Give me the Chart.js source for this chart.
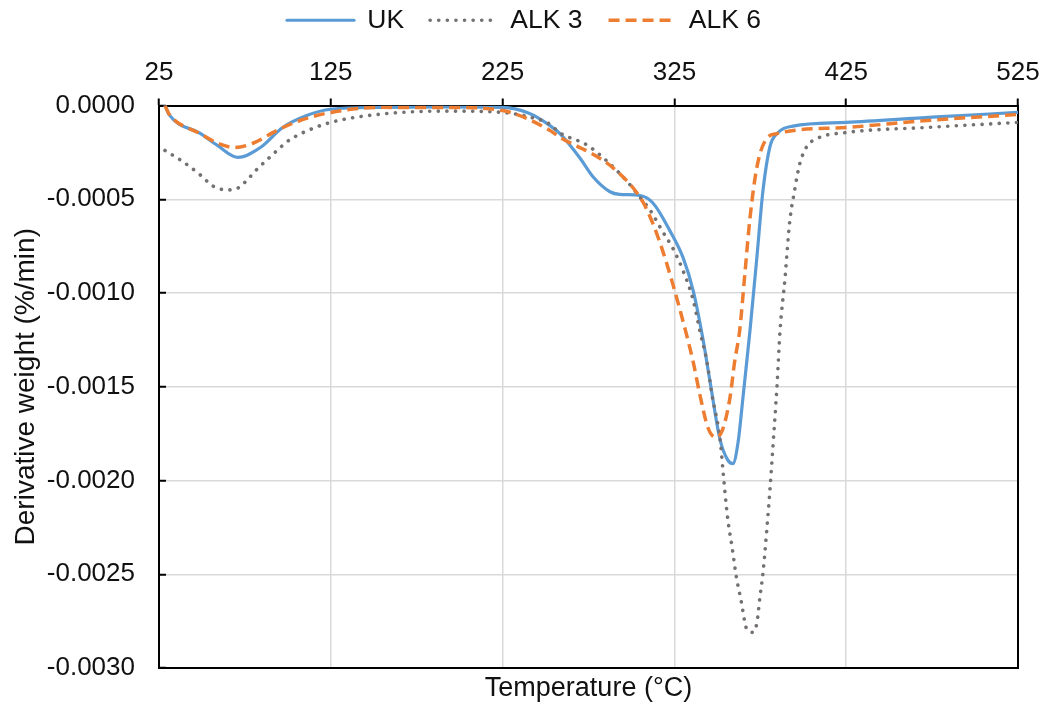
<!DOCTYPE html>
<html>
<head>
<meta charset="utf-8">
<script src="https://cdn.jsdelivr.net/npm/chart.js@4.4.1/dist/chart.umd.min.js"></script>
<style>
html,body{margin:0;padding:0;background:#ffffff;}
#wrap{width:1048px;height:706px;position:relative;}
</style>
</head>
<body>
<div id="wrap"><canvas id="c" width="1048" height="706"></canvas></div>
<script>
// ---- data ----
const seriesNames = ['UK', 'ALK 3', 'ALK 6'];
const xTicks = [25, 125, 225, 325, 425, 525];
const yTicks = [0, -0.0005, -0.0010, -0.0015, -0.0020, -0.0025, -0.0030];
const xTitle = 'Temperature (°C)';
const yTitle = 'Derivative weight (%/min)';

const ukT = [28.5, 31, 49, 59, 71, 84, 97, 111, 125, 155, 190, 225, 240, 252.6, 258.4, 270, 277.6, 287.5, 293, 305, 312.5, 322.5, 330, 336, 341.7, 345.7, 351.5, 356, 359, 362, 365, 369, 373, 376.6, 380.6, 384.7, 394, 425, 475, 525];
const ukY = [0, -0.00005, -0.000149, -0.000213, -0.000277, -0.000224, -0.000117, -0.000053, -0.00002, -0.00001, -0.000008, -0.00001, -0.00004, -0.000107, -0.00015, -0.00028, -0.00038, -0.00046, -0.000474, -0.00048, -0.00052, -0.00067, -0.00081, -0.00099, -0.00125, -0.00147, -0.00178, -0.00189, -0.00191, -0.0018, -0.00155, -0.0012, -0.00081, -0.00045, -0.00022, -0.00015, -0.00011, -0.00009, -0.000062, -0.000037];

const alk3T = [28.5, 39, 49, 56.5, 64.5, 71, 76, 82, 87.8, 93.7, 100, 109, 125, 155, 194, 225, 240, 252.6, 258, 274, 285, 297, 305, 311, 318, 324, 330, 336, 340, 344, 347, 351.6, 353.4, 356, 358.5, 361, 364, 367, 370.6, 373, 374.8, 376.6, 378.8, 380.6, 382.5, 384.7, 386.5, 389.4, 392, 395, 398, 402, 408, 425, 472, 525];
const alk3Y = [-0.00024, -0.0003, -0.00037, -0.00043, -0.00045, -0.00044, -0.0004, -0.00034, -0.00029, -0.00024, -0.00019, -0.000144, -0.00009, -0.000045, -0.00003, -0.000037, -0.00006, -0.0001, -0.000144, -0.00021, -0.00029, -0.0004, -0.00049, -0.00056, -0.00067, -0.00076, -0.00088, -0.00104, -0.00121, -0.00137, -0.00155, -0.00178, -0.00196, -0.0022, -0.00235, -0.00251, -0.00265, -0.00279, -0.00281, -0.00276, -0.00262, -0.00249, -0.00226, -0.00205, -0.0018, -0.0015, -0.0012, -0.00092, -0.00063, -0.00045, -0.00031, -0.00022, -0.000176, -0.000144, -0.000117, -0.00009];

const alk6T = [28.5, 30.5, 33, 49, 58.8, 69, 80, 93.7, 107, 125, 155, 194, 225, 252.6, 258.4, 277.6, 289, 301, 307, 312.5, 318, 324, 332, 336, 340, 344.6, 349, 353, 357.5, 360, 363, 366, 369, 373, 377.7, 384.7, 425, 472, 525];
const alk6Y = [0, -0.00004, -0.00007, -0.00015, -0.0002, -0.000224, -0.0002, -0.000133, -0.00008, -0.000037, -0.00001, -0.00001, -0.000027, -0.000133, -0.00017, -0.00026, -0.00033, -0.00044, -0.00052, -0.00063, -0.00077, -0.00095, -0.00122, -0.00137, -0.00155, -0.00172, -0.00177, -0.00173, -0.00155, -0.00137, -0.0012, -0.0009, -0.0006, -0.00033, -0.00019, -0.00015, -0.000117, -0.00008, -0.000048];

// ---- build chart ----
const toPts = (t, y) => t.map((v, i) => ({ x: v, y: y[i] }));
const FONT = '"Liberation Sans", Arial, sans-serif';
const TXT = '#111111';

Chart.defaults.font.family = FONT;
Chart.defaults.font.size = 26;
Chart.defaults.color = TXT;

const datasets = [
  { label: seriesNames[0], data: toPts(ukT, ukY), borderColor: '#5B9BD5', borderWidth: 3.2,
    borderDash: [], borderCapStyle: 'round', order: 3 },
  { label: seriesNames[1], data: toPts(alk3T, alk3Y), borderColor: '#767171', borderWidth: 3.6,
    borderDash: [0.1, 8.5], borderCapStyle: 'round', order: 2 },
  { label: seriesNames[2], data: toPts(alk6T, alk6Y), borderColor: '#ED7D31', borderWidth: 3.5,
    borderDash: [11, 6], borderCapStyle: 'butt', order: 1 }
].map(d => Object.assign(d, { pointRadius: 0, pointHoverRadius: 0, fill: false,
  cubicInterpolationMode: 'monotone', borderJoinStyle: 'round' }));

new Chart(document.getElementById('c'), {
  type: 'line',
  data: { datasets },
  options: {
    responsive: false,
    animation: false,
    events: [],
    layout: { padding: { top: -19, left: 0, right: 0, bottom: 0 } },
    plugins: {
      tooltip: { enabled: false },
      legend: {
        display: true,
        position: 'top',
        align: 'center',
        labels: {
          usePointStyle: true,
          pointStyle: 'line',
          pointStyleWidth: 67,
          padding: 26,
          color: TXT,
          font: { size: 26.5, family: FONT },
          generateLabels: (chart) => chart.data.datasets.map((ds, i) => ({
            text: ds.label,
            fillStyle: ds.borderColor,
            strokeStyle: ds.borderColor,
            lineWidth: ds.borderWidth,
            lineDash: ds.borderDash || [],
            lineCap: ds.borderCapStyle,
            lineJoin: 'round',
            pointStyle: 'line',
            hidden: false,
            datasetIndex: i,
            fontColor: TXT
          }))
        }
      }
    },
    scales: {
      x: {
        type: 'linear',
        position: 'top',
        min: 25, max: 525,
        afterBuildTicks: (s) => { s.ticks = xTicks.map(v => ({ value: v })); },
        afterFit: (s) => { s.height = 62; s.paddingLeft = 0; s.paddingRight = 0; },
        ticks: { padding: 10, color: TXT, font: { size: 26 }, maxRotation: 0, autoSkip: false,
          callback: (v) => String(v) },
        grid: { color: '#d9d9d9', lineWidth: 1.5, drawTicks: true, tickLength: 7,
          tickColor: '#000000', tickWidth: 2 },
        border: { display: true, color: '#000000', width: 2 }
      },
      x2: {
        type: 'linear',
        position: 'bottom',
        min: 25, max: 525,
        afterFit: (s) => { s.height = 38; s.paddingLeft = 0; s.paddingRight = 0; },
        ticks: { display: false },
        grid: { display: false, drawTicks: false },
        border: { display: true, color: '#000000', width: 2 },
        title: { display: true, text: xTitle, color: TXT, font: { size: 27 },
          padding: { top: 0, bottom: 0.8 } }
      },
      y: {
        type: 'linear',
        position: 'left',
        min: -0.003, max: 0,
        afterBuildTicks: (s) => { s.ticks = yTicks.map(v => ({ value: v })); },
        afterFit: (s) => { s.width = 159; s.paddingTop = 0; s.paddingBottom = 0; },
        ticks: { padding: 31, color: TXT, font: { size: 26 }, autoSkip: false,
          callback: (v) => Number(v).toFixed(4) },
        grid: { color: '#d9d9d9', lineWidth: 1.5, drawTicks: true, tickLength: -7,
          tickColor: '#000000', tickWidth: 2 },
        border: { display: true, color: '#000000', width: 2 },
        title: { display: true, text: yTitle, color: TXT, font: { size: 28 },
          padding: { top: 9, bottom: 0 } }
      },
      y2: {
        type: 'linear',
        position: 'right',
        min: -0.003, max: 0,
        afterFit: (s) => { s.width = 30; s.paddingTop = 0; s.paddingBottom = 0; },
        ticks: { display: false },
        grid: { display: false, drawTicks: false },
        border: { display: true, color: '#000000', width: 2 }
      }
    }
  }
});
</script>
</body>
</html>
